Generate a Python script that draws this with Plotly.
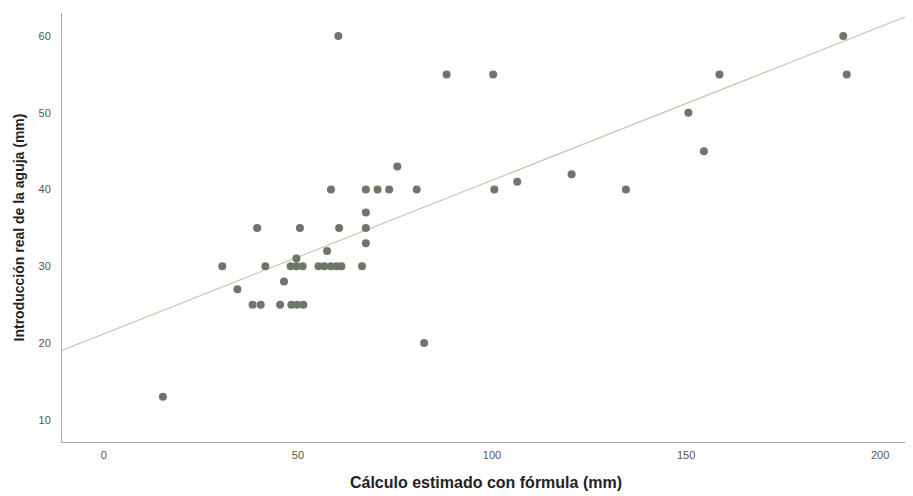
import plotly.graph_objects as go

# Data (Cálculo estimado vs Introducción real)
calc_estimado = [15.2, 82.5,
                 38.3, 40.4, 45.4, 48.3, 49.8, 51.4,
                 34.4, 46.4,
                 30.5, 41.6, 48.1, 49.6, 51.2, 55.3, 56.8, 58.5, 60.0, 61.2, 66.5,
                 49.6, 57.5, 67.5,
                 39.5, 50.5, 60.6, 67.5,
                 67.5,
                 58.5, 67.5, 70.5, 73.5, 80.6, 100.6, 134.5,
                 106.5, 120.5, 75.6, 154.6, 150.6,
                 88.3, 100.3, 158.6, 191.4,
                 60.4, 190.5]
introduccion_real = [13, 20,
                     25, 25, 25, 25, 25, 25,
                     27, 28,
                     30, 30, 30, 30, 30, 30, 30, 30, 30, 30, 30,
                     31, 32, 33,
                     35, 35, 35, 35,
                     37,
                     40, 40, 40, 40, 40, 40, 40,
                     41, 42, 43, 45, 50,
                     55, 55, 55, 55,
                     60, 60]

# Fit line coefficients
fit_intercept = 21.2
fit_slope = 0.2

x_range = [-10.8, 207.7]
y_range = [7.1, 63.0]
x_ticks = [0, 50, 100, 150, 200]
y_ticks = [10, 20, 30, 40, 50, 60]

fit_x = x_range
fit_y = [fit_intercept + fit_slope * v for v in fit_x]

fig = go.Figure()
fig.add_trace(go.Scatter(
    x=fit_x, y=fit_y, mode="lines",
    line=dict(color="#cfc6b0", width=1.2),
    hoverinfo="skip", showlegend=False))
fig.add_trace(go.Scatter(
    x=calc_estimado, y=introduccion_real, mode="markers",
    marker=dict(color="#6b7767", size=8, line=dict(width=0)),
    showlegend=False))

axis_font = dict(family="Liberation Sans Narrow, Liberation Sans, Arial", size=11, color="#555555")
ytitle_font = dict(family="Liberation Sans, Arial", size=14, color="#222222")
xtitle_font = dict(family="Liberation Sans, Arial", size=16, color="#222222")

fig.update_layout(
    width=905, height=488,
    margin=dict(l=54, r=3, t=5, b=54, autoexpand=False),
    paper_bgcolor="white", plot_bgcolor="white",
    xaxis=dict(range=x_range, tickvals=x_ticks, showgrid=False, zeroline=False,
               showline=True, linecolor="#a8a8a8", linewidth=1, ticks="",
               tickfont=axis_font, ticklabelstandoff=3, automargin=False,
               title=dict(text="<b>Cálculo estimado con fórmula (mm)</b>", font=xtitle_font, standoff=16)),
    yaxis=dict(range=y_range, tickvals=y_ticks, showgrid=False, zeroline=False,
               showline=True, linecolor="#a8a8a8", linewidth=1, ticks="",
               tickfont=axis_font, ticklabelstandoff=8, automargin=False,
               title=dict(text="<b>Introducción real de la aguja (mm)</b>", font=ytitle_font, standoff=10)),
)

fig.write_html("out.html")
